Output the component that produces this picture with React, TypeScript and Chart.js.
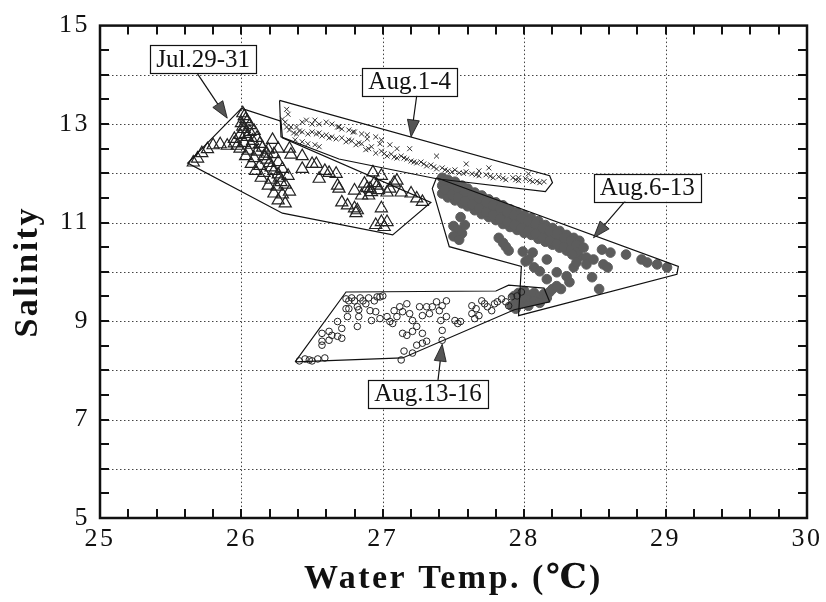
import { useEffect, useRef } from 'react';
import { Chart, registerables } from 'chart.js';

Chart.register(...registerables);

type Pt = [number, number];

// Axis ranges and tick labels
const tempRange: Pt = [25, 30];
const salRange: Pt = [5, 15];
const xTickValues = [25, 26, 27, 28, 29, 30];
const xTickLabels = ['25', '26', '27', '28', '29', '30'];
const yTickValues = [5, 7, 9, 11, 13, 15];
const yTickLabels = ['5', '7', '9', '11', '13', '15'];
const xGridValues = [26, 27, 28, 29];
const yGridValues = [6, 7, 8, 9, 10, 11, 12, 13, 14];

// Jul.29-31 (open triangles): [water temp, salinity]
const julPoints: Pt[] = [
  [25.66, 12.22], [25.69, 12.3], [25.72, 12.41], [25.76, 12.49], [25.8, 12.57], [25.85, 12.59], [25.9, 12.56], [25.95, 12.61],
  [26.01, 13.22], [26.03, 13.1], [26.0, 13.02], [26.06, 12.98], [26.02, 12.9], [26.09, 12.86], [25.99, 12.78], [26.04, 12.74],
  [26.11, 12.72], [25.95, 12.7], [26.02, 12.62], [26.07, 12.58], [26.13, 12.6], [25.97, 12.56], [25.99, 12.5], [26.05, 12.46],
  [26.11, 12.44], [26.19, 12.48], [26.03, 12.35], [26.09, 12.31], [26.16, 12.35], [26.23, 12.39], [26.07, 12.19], [26.13, 12.15],
  [26.2, 12.21], [26.26, 12.23], [26.1, 12.05], [26.16, 12.01], [26.23, 12.05], [26.29, 12.09], [26.14, 11.91], [26.21, 11.87],
  [26.27, 11.91], [26.33, 11.95], [26.19, 11.75], [26.25, 11.73], [26.31, 11.77], [26.23, 11.59], [26.29, 11.57], [26.34, 11.63],
  [26.26, 11.45], [26.31, 11.39], [26.02, 13.16], [26.04, 13.05], [26.01, 12.95], [26.06, 12.84], [26.03, 12.8], [26.08, 12.66],
  [26.15, 12.52], [26.18, 12.28], [26.21, 12.12], [26.26, 11.98], [26.28, 11.82], [26.18, 12.4],
  [26.22, 12.68], [26.26, 12.5], [26.34, 12.5], [26.35, 12.38], [26.43, 12.35], [26.43, 12.09], [26.5, 12.19], [26.53, 12.19],
  [26.55, 11.89], [26.59, 12.05], [26.62, 12.01], [26.67, 11.99], [26.68, 11.75], [26.69, 11.69], [26.71, 11.41], [26.75, 11.35],
  [26.8, 11.29], [26.81, 11.19], [26.82, 11.25], [26.8, 11.65], [26.85, 11.55], [26.87, 11.79], [26.91, 11.69], [26.93, 12.02],
  [26.96, 11.75], [26.99, 11.95], [26.99, 11.29], [27.03, 11.61], [27.05, 11.69], [27.08, 11.81], [27.1, 11.85], [27.13, 11.61],
  [27.2, 11.59], [27.24, 11.49], [27.28, 11.42], [26.95, 10.95], [26.99, 11.01], [27.01, 10.91], [27.03, 11.01], [26.89, 11.7],
  [26.92, 11.62], [26.94, 11.8], [26.97, 11.66], [26.9, 11.55],
];

// Aug.1-4 (crosses)
const aug1Points: Pt[] = [
  [26.32, 13.3], [26.33, 13.2], [26.29, 13.1], [26.31, 13.04], [26.32, 12.94], [26.35, 12.94], [26.39, 12.94], [26.43, 13.04],
  [26.46, 13.08], [26.5, 13.0], [26.52, 13.08], [26.55, 13.0], [26.6, 13.04], [26.64, 13.0], [26.68, 12.94], [26.71, 12.9],
  [26.76, 12.88], [26.8, 12.84], [26.85, 12.8], [26.89, 12.78], [26.95, 12.74], [26.99, 12.68], [27.05, 12.58], [27.1, 12.5],
  [27.19, 12.5], [27.38, 12.35], [27.59, 12.19], [27.68, 12.05], [27.75, 12.11], [27.96, 11.91], [28.03, 11.99],
  [26.38, 12.68], [26.43, 12.64], [26.47, 12.6], [26.52, 12.58], [26.55, 12.54],
  [26.34, 12.88], [26.37, 12.82], [26.39, 12.8], [26.43, 12.84], [26.47, 12.8], [26.5, 12.84], [26.53, 12.8], [26.57, 12.76],
  [26.6, 12.78], [26.64, 12.74], [26.67, 12.7], [26.71, 12.72], [26.74, 12.64], [26.78, 12.66], [26.81, 12.58], [26.85, 12.6],
  [26.88, 12.48], [26.92, 12.54], [26.95, 12.41], [26.99, 12.45], [27.03, 12.35], [27.06, 12.39], [27.1, 12.31], [27.13, 12.35],
  [27.17, 12.29], [27.2, 12.25], [27.24, 12.21], [27.27, 12.23], [27.31, 12.15], [27.34, 12.17], [27.38, 12.09], [27.42, 12.11],
  [27.46, 12.05], [27.51, 12.07], [27.54, 12.01], [27.59, 12.03], [27.63, 11.99], [27.68, 11.95], [27.73, 11.97], [27.78, 11.91],
  [27.82, 11.93], [27.87, 11.87], [27.92, 11.91], [27.96, 11.85], [28.01, 11.89], [28.06, 11.83], [28.11, 11.81], [28.14, 11.83],
  [26.69, 12.94], [26.79, 12.84], [26.89, 12.7], [26.98, 12.6],
  [26.41, 12.86], [26.55, 12.82], [26.62, 12.72], [26.76, 12.68], [26.83, 12.62], [26.9, 12.5], [27.01, 12.4], [27.08, 12.33],
  [27.15, 12.31], [27.22, 12.23], [27.29, 12.19], [27.36, 12.13], [27.44, 12.07], [27.49, 12.03], [27.57, 12.0], [27.66, 11.97],
  [27.76, 11.94], [27.85, 11.9], [27.94, 11.87], [28.04, 11.86], [28.09, 11.84],
];

// Aug.6-13 (filled circles)
const aug6Points: Pt[] = [
  [27.42, 11.91], [27.42, 11.75], [27.42, 11.59], [27.46, 11.87], [27.46, 11.69], [27.46, 11.51],
  [27.51, 11.83], [27.51, 11.63], [27.51, 11.45], [27.56, 11.75], [27.56, 11.55], [27.56, 11.39],
  [27.6, 11.69], [27.6, 11.49], [27.6, 11.33], [27.65, 11.61], [27.65, 11.41], [27.65, 11.25],
  [27.7, 11.55], [27.7, 11.35], [27.7, 11.17], [27.75, 11.47], [27.75, 11.29], [27.75, 11.11],
  [27.8, 11.41], [27.8, 11.21], [27.8, 11.05], [27.85, 11.35], [27.85, 11.15], [27.85, 10.97],
  [27.9, 11.27], [27.9, 11.09], [27.9, 10.91], [27.95, 11.21], [27.95, 11.03], [27.95, 10.85],
  [28.0, 11.15], [28.0, 10.97], [28.0, 10.79], [28.05, 11.09], [28.05, 10.91], [28.05, 10.75],
  [28.1, 11.03], [28.1, 10.85], [28.1, 10.67], [28.15, 10.95], [28.15, 10.77], [28.15, 10.61],
  [28.2, 10.89], [28.2, 10.71], [28.2, 10.55], [28.25, 10.83], [28.25, 10.65], [28.25, 10.49],
  [28.3, 10.75], [28.3, 10.59], [28.3, 10.43], [28.35, 10.69], [28.35, 10.53], [28.35, 10.37],
  [28.39, 10.63], [28.39, 10.47], [28.39, 10.31],
  [27.44, 11.83], [27.44, 11.67], [27.49, 11.77], [27.49, 11.57], [27.53, 11.7], [27.53, 11.51], [27.58, 11.63], [27.58, 11.43],
  [27.63, 11.55], [27.63, 11.37], [27.68, 11.49], [27.68, 11.29], [27.73, 11.41], [27.73, 11.21], [27.78, 11.35], [27.78, 11.15],
  [27.83, 11.29], [27.83, 11.07], [27.88, 11.21], [27.88, 11.01], [27.93, 11.15], [27.93, 10.95], [27.98, 11.09], [27.98, 10.89],
  [28.03, 11.03], [28.03, 10.83], [28.08, 10.97], [28.08, 10.77], [28.13, 10.89], [28.13, 10.69], [28.18, 10.83], [28.18, 10.63],
  [28.23, 10.77], [28.23, 10.57], [28.28, 10.69], [28.28, 10.51], [28.33, 10.63], [28.33, 10.45], [28.37, 10.55], [28.37, 10.39],
  [27.5, 10.93], [27.53, 10.85], [27.56, 10.78], [27.5, 10.72], [27.58, 10.95], [27.54, 10.65], [27.55, 11.11],
  [27.82, 10.69], [27.85, 10.59], [27.89, 10.43], [27.87, 10.51],
  [27.99, 10.41], [28.01, 10.21], [28.06, 10.39], [28.07, 10.09], [28.11, 10.01], [28.03, 10.25], [28.16, 10.25],
  [28.16, 9.85], [28.23, 9.99], [28.26, 9.65], [28.3, 9.91], [28.32, 9.79], [28.35, 10.09], [28.34, 10.35], [28.37, 10.19],
  [28.42, 10.49], [28.44, 10.29], [28.44, 10.15], [28.48, 9.89], [28.53, 9.65], [28.55, 10.45], [28.61, 10.39], [28.56, 10.15],
  [28.59, 10.09], [28.72, 10.35], [28.83, 10.25], [28.87, 10.19], [28.94, 10.15], [29.01, 10.09], [28.49, 10.25],
  [27.93, 9.51], [27.96, 9.57], [28.0, 9.61], [28.03, 9.53], [28.07, 9.57], [28.11, 9.49], [28.14, 9.55], [27.95, 9.39],
  [27.98, 9.35], [28.02, 9.43], [28.07, 9.41], [28.11, 9.37], [28.18, 9.59], [28.2, 9.65], [28.23, 9.71], [27.91, 9.31],
  [27.94, 9.25], [28.16, 9.47], [28.03, 9.31], [27.99, 9.49],
];

// Aug.13-16 (open circles)
const aug13Points: Pt[] = [
  [26.41, 8.19], [26.45, 8.23], [26.48, 8.21], [26.5, 8.19], [26.54, 8.23], [26.59, 8.25], [26.57, 8.59], [26.57, 8.51],
  [26.62, 8.61], [26.68, 8.69], [26.68, 8.99], [26.71, 8.65], [26.71, 8.85], [26.82, 8.89], [26.76, 9.41], [26.76, 9.25],
  [26.8, 9.41], [26.82, 9.29], [26.83, 9.09], [26.86, 9.41], [26.88, 9.35], [26.91, 9.21], [26.92, 9.01], [26.94, 9.41],
  [26.95, 9.19], [26.98, 9.49], [27.0, 9.51], [26.98, 9.05], [27.03, 9.09], [27.05, 8.99], [27.07, 8.95], [27.08, 9.21],
  [27.1, 9.09], [27.12, 9.29], [27.14, 9.19], [27.17, 9.35], [27.19, 9.15], [27.21, 9.01], [27.24, 8.89], [27.26, 9.29],
  [27.28, 9.11], [27.31, 9.29], [27.33, 9.15], [27.35, 9.29], [27.38, 9.39], [27.4, 9.21], [27.42, 9.31], [27.45, 9.41],
  [27.45, 9.09], [27.41, 9.01], [27.42, 8.81], [27.14, 8.75], [27.17, 8.71], [27.21, 8.79], [27.28, 8.75], [27.15, 8.39],
  [27.21, 8.35], [27.24, 8.51], [27.28, 8.55], [27.31, 8.59], [27.13, 8.21], [27.42, 8.61], [26.57, 8.75], [26.64, 8.71],
  [26.62, 8.79], [26.74, 9.45], [26.78, 9.47], [26.84, 9.47], [26.9, 9.47], [26.96, 9.49], [26.74, 9.25], [26.75, 9.09],
  [26.83, 9.23],
  [27.51, 9.01], [27.53, 8.95], [27.55, 8.99], [27.63, 9.31], [27.63, 9.15], [27.65, 9.05], [27.66, 9.25], [27.68, 9.11],
  [27.7, 9.41], [27.74, 9.29], [27.77, 9.21], [27.81, 9.39], [27.84, 9.45], [27.87, 9.39], [27.89, 9.31], [27.91, 9.49],
  [27.95, 9.51], [27.98, 9.59], [27.72, 9.35], [27.79, 9.35],
];

// Outlines around each period's cluster
const julOutline: Pt[] = [[26.0, 13.32], [26.28, 13.06], [26.29, 12.72], [27.34, 11.41], [27.07, 10.75], [26.29, 11.19], [25.62, 12.21]];
const aug1Outline: Pt[] = [[26.27, 13.48], [28.18, 11.95], [28.2, 11.81], [28.15, 11.63], [27.38, 11.89], [26.69, 12.29], [26.28, 12.74]];
const aug6Outline: Pt[] = [[27.38, 11.91], [29.09, 10.11], [29.08, 9.95], [27.96, 9.11], [27.98, 10.11], [27.47, 10.51], [27.35, 11.69]];
const aug13Outline: Pt[] = [[26.38, 8.17], [26.74, 9.59], [27.8, 9.61], [27.89, 9.73], [28.14, 9.67], [28.18, 9.39], [27.93, 9.23], [27.14, 8.25]];

// Callout labels with their arrows
const calloutText = ['Jul.29-31', 'Aug.1-4', 'Aug.6-13', 'Aug.13-16'];
const calloutAt: Pt[] = [[25.73, 14.32], [27.19, 13.86], [28.87, 11.71], [27.32, 7.52]];
const arrowFrom: Pt[] = [[25.69, 14.02], [27.24, 13.58], [28.73, 11.49], [27.39, 7.79]];
const arrowTo: Pt[] = [[25.9, 13.12], [27.2, 12.74], [28.49, 10.69], [27.42, 8.53]];

const serif = "'Liberation Serif', 'DejaVu Serif', serif";

const toXY = (pts: Pt[]) => pts.map(([x, y]) => ({ x, y }));
const closed = (pts: Pt[]) => toXY([...pts, pts[0]]);

const decorPlugin = {
  id: 'decor',
  beforeDraw(chart: any) {
    chart.ctx.letterSpacing = '2.5px';
  },
  beforeDatasetsDraw(chart: any) {
    const { ctx, chartArea: a, scales } = chart;
    const x = scales.x;
    const y = scales.y;
    ctx.save();
    ctx.strokeStyle = '#444';
    ctx.lineWidth = 1;
    ctx.setLineDash([1.5, 2.5]);
    for (const t of xGridValues) {
      const px = Math.round(x.getPixelForValue(t)) + 0.5;
      ctx.beginPath();
      ctx.moveTo(px, a.top);
      ctx.lineTo(px, a.bottom);
      ctx.stroke();
    }
    for (const s of yGridValues) {
      const py = Math.round(y.getPixelForValue(s)) + 0.5;
      ctx.beginPath();
      ctx.moveTo(a.left, py);
      ctx.lineTo(a.right, py);
      ctx.stroke();
    }
    ctx.restore();
  },
  afterDatasetsDraw(chart: any) {
    const { ctx, chartArea: a, scales } = chart;
    const x = scales.x;
    const y = scales.y;
    ctx.save();
    ctx.letterSpacing = '0px';
    ctx.setLineDash([]);

    // inward tick marks on all four sides
    ctx.strokeStyle = '#111';
    ctx.lineWidth = 2;
    const tl = 9;
    for (let i = 1; i < 25; i++) {
      const px = Math.round(x.getPixelForValue(tempRange[0] + i * 0.2));
      ctx.beginPath();
      ctx.moveTo(px, a.bottom);
      ctx.lineTo(px, a.bottom - tl);
      ctx.moveTo(px, a.top);
      ctx.lineTo(px, a.top + tl);
      ctx.stroke();
    }
    for (let i = 1; i < 20; i++) {
      const py = Math.round(y.getPixelForValue(salRange[0] + i * 0.5));
      ctx.beginPath();
      ctx.moveTo(a.left, py);
      ctx.lineTo(a.left + tl, py);
      ctx.moveTo(a.right, py);
      ctx.lineTo(a.right - tl, py);
      ctx.stroke();
    }

    // plot frame
    ctx.lineWidth = 2.5;
    ctx.strokeRect(a.left, a.top, a.right - a.left, a.bottom - a.top);

    // arrows
    for (let i = 0; i < calloutText.length; i++) {
      const x0 = x.getPixelForValue(arrowFrom[i][0]);
      const y0 = y.getPixelForValue(arrowFrom[i][1]);
      const x1 = x.getPixelForValue(arrowTo[i][0]);
      const y1 = y.getPixelForValue(arrowTo[i][1]);
      const len = Math.hypot(x1 - x0, y1 - y0);
      const ux = (x1 - x0) / len;
      const uy = (y1 - y0) / len;
      const hl = 17;
      const hw = 6;
      const bx = x1 - ux * hl;
      const by = y1 - uy * hl;
      ctx.lineWidth = 1.2;
      ctx.strokeStyle = '#111';
      ctx.beginPath();
      ctx.moveTo(x0, y0);
      ctx.lineTo(bx, by);
      ctx.stroke();
      ctx.beginPath();
      ctx.moveTo(x1, y1);
      ctx.lineTo(bx - uy * hw, by + ux * hw);
      ctx.lineTo(bx + uy * hw, by - ux * hw);
      ctx.closePath();
      ctx.fillStyle = '#555';
      ctx.fill();
      ctx.lineWidth = 0.8;
      ctx.stroke();
    }

    // label boxes
    ctx.font = `25px ${serif}`;
    ctx.textAlign = 'center';
    ctx.textBaseline = 'middle';
    for (let i = 0; i < calloutText.length; i++) {
      const cx = x.getPixelForValue(calloutAt[i][0]);
      const cy = y.getPixelForValue(calloutAt[i][1]);
      const w = ctx.measureText(calloutText[i]).width + 12;
      const h = 28;
      ctx.fillStyle = '#fff';
      ctx.fillRect(cx - w / 2, cy - h / 2, w, h);
      ctx.lineWidth = 1.2;
      ctx.strokeStyle = '#111';
      ctx.strokeRect(Math.round(cx - w / 2) + 0.5, Math.round(cy - h / 2) + 0.5, Math.round(w), h);
      ctx.fillStyle = '#111';
      ctx.fillText(calloutText[i], cx, cy + 1);
    }
    ctx.restore();
  },
};

export default function App() {
  const ref = useRef<HTMLCanvasElement>(null);

  useEffect(() => {
    const outline = (pts: Pt[]) => ({
      data: closed(pts),
      showLine: true,
      borderColor: '#111',
      borderWidth: 1.2,
      pointRadius: 0,
      fill: false,
      tension: 0,
    });

    const chart = new Chart(ref.current as HTMLCanvasElement, {
      type: 'scatter',
      data: {
        datasets: [
          outline(julOutline),
          outline(aug1Outline),
          outline(aug6Outline),
          outline(aug13Outline),
          {
            label: 'Aug.13-16',
            data: toXY(aug13Points),
            pointStyle: 'circle',
            pointRadius: 3.3,
            backgroundColor: 'rgba(255,255,255,0)',
            borderColor: '#222',
            borderWidth: 1,
          },
          {
            label: 'Aug.6-13',
            data: toXY(aug6Points),
            pointStyle: 'circle',
            pointRadius: 4.8,
            backgroundColor: '#5c5c5c',
            borderColor: '#5c5c5c',
            borderWidth: 1,
          },
          {
            label: 'Aug.1-4',
            data: toXY(aug1Points),
            pointStyle: 'crossRot',
            pointRadius: 3.5,
            borderColor: '#333',
            borderWidth: 1,
          },
          {
            label: 'Jul.29-31',
            data: toXY(julPoints),
            pointStyle: 'triangle',
            pointRadius: 7,
            backgroundColor: 'rgba(255,255,255,0)',
            borderColor: '#222',
            borderWidth: 1.2,
          },
        ] as any,
      },
      options: {
        animation: false,
        responsive: false,
        events: [],
        layout: { padding: { top: 17, right: 18, left: 0, bottom: 0 } },
        plugins: { legend: { display: false }, tooltip: { enabled: false } },
        scales: {
          x: {
            type: 'linear',
            min: tempRange[0],
            max: tempRange[1],
            grid: { display: false, drawTicks: false },
            border: { display: false },
            afterFit: (s: any) => {
              s.height = 84;
            },
            ticks: {
              stepSize: 1,
              padding: 6,
              color: '#111',
              font: { family: serif, size: 26 },
              maxRotation: 0,
              callback: (v: any) => {
                const i = xTickValues.indexOf(Number(v));
                return i >= 0 ? xTickLabels[i] : '';
              },
            },
            title: {
              display: true,
              text: 'Water Temp. (℃)',
              color: '#111',
              font: { family: serif, size: 34, weight: 'bold' },
              padding: { top: 0, bottom: 2 },
            },
          },
          y: {
            type: 'linear',
            min: salRange[0],
            max: salRange[1],
            grid: { display: false, drawTicks: false },
            border: { display: false },
            afterFit: (s: any) => {
              s.width = 100;
            },
            ticks: {
              stepSize: 1,
              padding: 10,
              color: '#111',
              font: { family: serif, size: 26 },
              callback: (v: any) => {
                const i = yTickValues.indexOf(Number(v));
                return i >= 0 ? yTickLabels[i] : '';
              },
            },
            title: {
              display: true,
              text: 'Salinity',
              color: '#111',
              font: { family: serif, size: 34, weight: 'bold' },
              padding: { top: 8, bottom: 0 },
            },
          },
        },
      } as any,
      plugins: [decorPlugin],
    });
    return () => chart.destroy();
  }, []);

  return (
    <div style={{ position: 'fixed', left: 0, top: 0, width: 826, height: 602, background: '#fff' }}>
      <canvas ref={ref} width={826} height={602} style={{ display: 'block', width: 826, height: 602 }} />
    </div>
  );
}
